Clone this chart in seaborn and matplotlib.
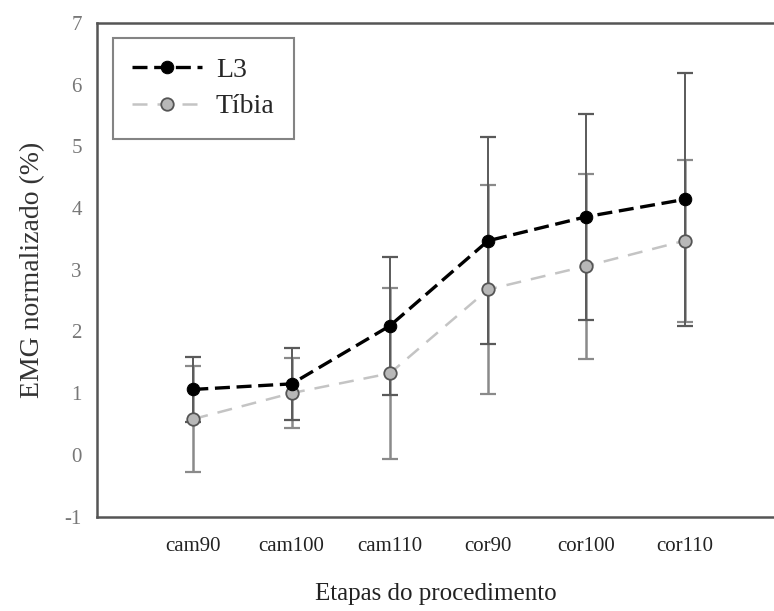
import matplotlib
matplotlib.use("Agg")
import matplotlib.pyplot as plt
import seaborn as sns
import pandas as pd

# Etapas do procedimento e médias / desvios da EMG normalizada (%)
etapas = ["cam90", "cam100", "cam110", "cor90", "cor100", "cor110"]
l3_media = [1.06, 1.15, 2.09, 3.47, 3.86, 4.14]
l3_dp = [0.53, 0.58, 1.12, 1.68, 1.67, 2.05]
tibia_media = [0.58, 1.00, 1.32, 2.68, 3.06, 3.47]
tibia_dp = [0.86, 0.57, 1.39, 1.69, 1.50, 1.31]
y_ticks = [-1, 0, 1, 2, 3, 4, 5, 6, 7]

df = pd.DataFrame({
    "etapa": etapas,
    "L3": l3_media,
    "L3_dp": l3_dp,
    "Tibia": tibia_media,
    "Tibia_dp": tibia_dp,
})

sns.set_style("white")
plt.rcParams["font.family"] = ["Liberation Serif", "DejaVu Serif"]

fig = plt.figure(figsize=(7.74, 6.11), dpi=100)
ax = fig.add_axes([97 / 774, (611 - 516.5) / 611, 677 / 774, 493.5 / 611])

# barras de desvio padrão
ax.errorbar(df["etapa"], df["Tibia"], yerr=df["Tibia_dp"], fmt="none",
            ecolor="#8a8a8a", elinewidth=1.8, capsize=6, capthick=1.6, zorder=1)
ax.errorbar(df["etapa"], df["L3"], yerr=df["L3_dp"], fmt="none",
            ecolor="#5a5a5a", elinewidth=1.4, capsize=6, capthick=1.6, zorder=1)

sns.lineplot(data=df, x="etapa", y="Tibia", sort=False, ax=ax,
             color="#c4c4c4", linewidth=1.8, linestyle=(0, (6, 4)),
             marker="o", markersize=9, markerfacecolor="#b8b8b8",
             markeredgecolor="#555555", markeredgewidth=1.3,
             label="Tíbia", zorder=3)
sns.lineplot(data=df, x="etapa", y="L3", sort=False, ax=ax,
             color="black", linewidth=2.4, linestyle=(0, (4.5, 2)),
             marker="o", markersize=9, markerfacecolor="black",
             markeredgecolor="black", label="L3", zorder=4)

ax.set_xlim(-0.98, 5.91)
ax.set_ylim(-1, 7)
ax.set_yticks(y_ticks)
ax.set_yticklabels([str(v) for v in y_ticks])

for side in ("left", "bottom", "top"):
    ax.spines[side].set_visible(True)
    ax.spines[side].set_color("#555555")
    ax.spines[side].set_linewidth(1.8)
ax.spines["right"].set_visible(False)

ax.tick_params(axis="both", direction="out", length=5, width=1.2, color="#666666")
ax.tick_params(axis="y", labelsize=15, labelcolor="#777777", pad=6)
ax.tick_params(axis="x", labelsize=15, labelcolor="#222222", pad=10)

ax.set_xlabel("Etapas do procedimento", fontsize=18, color="#222222")
ax.set_ylabel("EMG normalizado (%)", fontsize=20, color="#333333")
ax.xaxis.set_label_coords(0.5, -0.135)
ax.yaxis.set_label_coords(-0.077, 0.5)

handles, labels = ax.get_legend_handles_labels()
order = [labels.index("L3"), labels.index("Tíbia")]
leg = ax.legend([handles[i] for i in order], [labels[i] for i in order],
                loc="upper left", bbox_to_anchor=(16 / 677, 1 - 15 / 493.5),
                fontsize=20, frameon=True, fancybox=False, handlelength=2.5,
                handletextpad=0.5, borderpad=0.7, labelspacing=0.4,
                borderaxespad=0)
leg.get_frame().set_edgecolor("#666666")
leg.get_frame().set_linewidth(1.5)

fig.savefig("out.png", dpi=100)
